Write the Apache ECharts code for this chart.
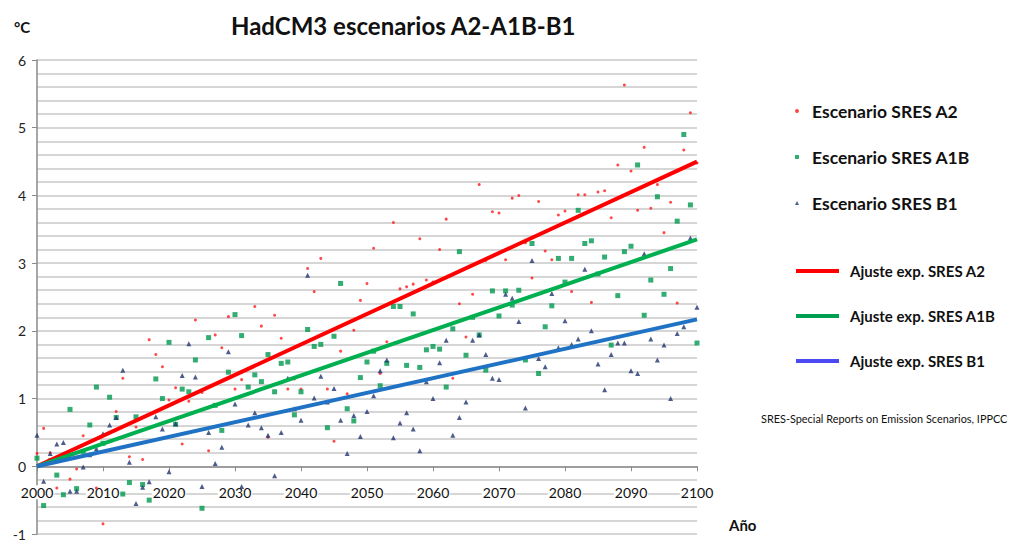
<!DOCTYPE html>
<html>
<head>
<meta charset="utf-8">
<script src="https://cdn.jsdelivr.net/npm/echarts@6/dist/echarts.min.js"></script>
<style>
  html, body { margin: 0; padding: 0; background: #fff; }
  #chart { width: 1009px; height: 541px; }
</style>
</head>
<body>
<div id="chart"></div>
<script>
// Annual temperature anomaly (°C), one value per year starting at firstYear
const firstYear = 2000;

const a2 = [
  0.19, 0.56, 0.20, -0.32, 0.18, -0.19, -0.04, 0.45, 0.36, -0.32,
  -0.85, 0.50, 0.81, 1.30, 0.14, 0.58, 0.10, 1.87, 1.65, 1.47,
  0.98, 1.16, 0.33, 0.96, 2.16, 1.09, 0.23, 1.94, 1.75, 2.21,
  1.14, 1.28, 1.44, 2.36, 2.07, 0.43, 2.23, 1.89, 1.14, 1.29,
  1.14, 2.92, 2.58, 3.07, 1.14, 0.37, 1.70, 1.07, 2.01, 2.45,
  2.70, 3.22, 1.37, 1.84, 3.60, 2.62, 2.65, 2.69, 3.36, 2.75,
  2.72, 3.20, 3.65, 1.30, 2.40, 1.91, 2.54, 4.16, 3.04, 3.76,
  3.74, 3.05, 3.96, 4.00, 3.30, 2.78, 3.91, 3.18, 3.05, 3.71,
  3.77, 2.58, 4.01, 4.01, 2.42, 4.05, 4.07, 3.67, 4.45, 5.63,
  4.36, 3.78, 4.71, 3.81, 4.16, 3.45, 3.90, 2.41, 4.67, 5.22,
  4.48
];

const a1b = [
  0.12, -0.58, 0.08, -0.13, -0.42, 0.84, -0.33, 0.22, 0.61, 1.17,
  0.34, 1.02, 0.72, -0.41, -0.24, 0.73, -0.27, -0.50, 1.29, 1.00,
  1.83, 0.62, 1.14, 1.10, 1.57, -0.62, 1.90, 0.90, 0.53, 1.39,
  2.24, 1.93, 1.17, 1.35, 1.25, 1.65, 1.10, 1.52, 1.54, 0.76,
  1.10, 2.02, 1.77, 1.80, 0.57, 1.92, 2.70, 0.85, 0.67, 1.31,
  1.54, 1.70, 1.19, 1.52, 2.36, 2.36, 1.49, 2.25, 1.46, 1.72,
  1.77, 1.73, 1.17, 2.03, 3.17, 1.64, 2.20, 1.94, 1.42, 2.59,
  2.22, 2.59, 2.38, 2.60, 1.57, 3.29, 1.37, 2.06, 2.37, 3.07,
  2.72, 3.07, 3.78, 3.29, 3.33, 2.84, 3.09, 1.79, 2.52, 3.17,
  3.25, 4.45, 2.23, 2.75, 3.98, 2.54, 2.92, 3.62, 4.90, 3.86,
  1.82
];

const b1 = [
  0.46, -0.22, 0.19, 0.33, 0.35, -0.37, -0.37, -0.01, 0.17, 0.26,
  0.48, 0.61, 0.72, 1.42, 0.06, -0.55, -0.31, -0.23, 0.73, 0.55,
  -0.08, 0.63, 1.34, 1.81, 1.32, -0.30, 0.50, 0.04, 0.28, 1.69,
  0.92, -0.30, 0.61, 0.79, 0.57, 0.46, -0.14, 0.50, 1.30, 0.85,
  0.68, 2.82, 1.01, 1.33, 0.95, 1.15, 0.68, 0.19, 0.75, 0.44,
  0.81, 1.04, 1.41, 1.57, 0.42, 0.64, 0.79, 0.55, 0.23, 1.25,
  1.00, 1.53, 1.86, 0.46, 0.72, 0.95, 1.86, 1.94, 1.65, 1.30,
  1.28, 2.54, 2.48, 2.14, 0.86, 3.04, 1.59, 1.47, 2.55, 1.75,
  2.15, 1.80, 1.88, 2.91, 2.00, 1.51, 1.13, 1.65, 1.82, 1.82,
  1.41, 1.37, 3.14, 1.88, 1.57, 1.79, 1.00, 1.96, 2.06, 3.37,
  2.35
];

// Fitted trend lines: start and end of the period
const fitYears = [2000, 2100];
const fitA2 = [0, 4.5];
const fitA1B = [0, 3.35];
const fitB1 = [0, 2.17];

const names = {
  a2: 'Escenario SRES A2',
  a1b: 'Escenario SRES A1B',
  b1: 'Escenario SRES B1',
  fitA2: 'Ajuste exp. SRES A2',
  fitA1B: 'Ajuste exp. SRES A1B',
  fitB1: 'Ajuste exp. SRES B1'
};

const toPoints = arr => arr.map((v, i) => [firstYear + i, v]);
const toFit = arr => arr.map((v, i) => [fitYears[i], v]);

const FONT = 'Lato, "Open Sans", sans-serif';
const gridColor = '#c8c8c8';
const axisColor = '#8a8a8a';

// Plot box; the year axis sits on the 0 °C line, one unit above the bottom (-1)
const gridTop = 60, gridBottom = 7, yMin = -1, yMax = 6;
const plotHeight = 541 - gridTop - gridBottom;
const zeroOffset = -plotHeight * (0 - yMin) / (yMax - yMin);

const chart = echarts.init(document.getElementById('chart'), null, { renderer: 'svg' });

chart.setOption({
  animation: false,
  backgroundColor: '#fff',
  textStyle: { fontFamily: FONT },
  title: [
    {
      text: 'HadCM3 escenarios A2-A1B-B1',
      left: 226, top: 8,
      textStyle: { fontFamily: FONT, fontSize: 24, fontWeight: 'bold', color: '#111' }
    },
    {
      text: '°C',
      left: 9, top: 14,
      textStyle: { fontFamily: FONT, fontSize: 15, fontWeight: 'bold', color: '#111' }
    },
    {
      text: 'Año',
      left: 724, top: 512,
      textStyle: { fontFamily: FONT, fontSize: 15, fontWeight: 'bold', color: '#111' }
    },
    {
      text: 'SRES-Special Reports on Emission Scenarios, IPPCC',
      left: 756, top: 408,
      textStyle: { fontFamily: FONT, fontSize: 10.9, fontWeight: 'normal', color: '#111' }
    }
  ],
  legend: [
    {
      data: [names.a2, names.a1b, names.b1],
      orient: 'vertical',
      left: 790, top: 96,
      itemWidth: 4, itemHeight: 4,
      itemGap: 26,
      selectedMode: false,
      textStyle: { fontFamily: FONT, fontSize: 17.5, fontWeight: 'bold', color: '#111', lineHeight: 20, padding: [0, 0, 0, 8] }
    },
    {
      data: [
        { name: names.fitA2, icon: 'rect' },
        { name: names.fitA1B, icon: 'rect' },
        { name: names.fitB1, icon: 'rect', itemStyle: { color: '#4a4af0' } }
      ],
      orient: 'vertical',
      left: 791, top: 256,
      itemWidth: 43, itemHeight: 4,
      itemGap: 25,
      selectedMode: false,
      textStyle: { fontFamily: FONT, fontSize: 15, fontWeight: 'bold', color: '#111', lineHeight: 20, padding: [0, 0, 0, 6] }
    }
  ],
  grid: { left: 37, right: 312, top: gridTop, bottom: gridBottom, containLabel: false, outerBoundsMode: 'none' },
  xAxis: {
    type: 'value',
    position: 'bottom',
    offset: zeroOffset,
    min: 2000, max: 2100, interval: 10,
    axisLine: { show: true, onZero: false, lineStyle: { color: axisColor, width: 1.5 } },
    axisTick: { show: true, length: 5, lineStyle: { color: axisColor, width: 1 } },
    axisLabel: {
      margin: 19, fontSize: 14, color: '#111', fontFamily: FONT,
      backgroundColor: '#fff', padding: [0, 1],
      formatter: v => String(v)
    },
    splitLine: { show: false }
  },
  yAxis: {
    type: 'value',
    min: yMin, max: yMax, interval: 1,
    axisLine: { show: true, lineStyle: { color: axisColor, width: 1.5 } },
    axisTick: { show: true, length: 5, lineStyle: { color: axisColor, width: 1 } },
    axisLabel: { margin: 11, fontSize: 14, color: '#222', fontFamily: FONT },
    splitLine: { show: true, lineStyle: { color: gridColor, width: 1.5 } },
    minorTick: { show: false, splitNumber: 5 },
    minorSplitLine: { show: true, lineStyle: { color: gridColor, width: 1.5 } }
  },
  series: [
    {
      name: names.a2, type: 'scatter', data: toPoints(a2),
      symbol: 'circle', symbolSize: 3, z: 2,
      itemStyle: { color: '#ff1a1a' }
    },
    {
      name: names.a1b, type: 'scatter', data: toPoints(a1b),
      symbol: 'rect', symbolSize: 5, z: 2,
      itemStyle: { color: '#00994d' }
    },
    {
      name: names.b1, type: 'scatter', data: toPoints(b1),
      symbol: 'triangle', symbolSize: 5, z: 2,
      itemStyle: { color: '#1f3470' }
    },
    {
      name: names.fitA2, type: 'line', data: toFit(fitA2),
      showSymbol: false, symbol: 'none', z: 3,
      lineStyle: { color: '#ff0000', width: 4 },
      itemStyle: { color: '#ff0000' }
    },
    {
      name: names.fitA1B, type: 'line', data: toFit(fitA1B),
      showSymbol: false, symbol: 'none', z: 3,
      lineStyle: { color: '#00b050', width: 4 },
      itemStyle: { color: '#00a050' }
    },
    {
      name: names.fitB1, type: 'line', data: toFit(fitB1),
      showSymbol: false, symbol: 'none', z: 3,
      lineStyle: { color: '#1f72c4', width: 4 },
      itemStyle: { color: '#1f72c4' }
    }
  ]
});
</script>
</body>
</html>
